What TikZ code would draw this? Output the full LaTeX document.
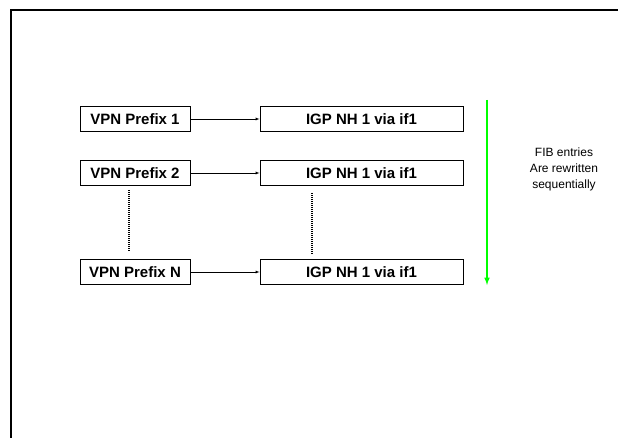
\documentclass[tikz,border=0pt]{standalone}
\usepackage{fontspec}
\setmainfont{Liberation Sans}
\usetikzlibrary{calc}
\tikzset{>=latex}
\definecolor{fibgreen}{RGB}{0,255,0}

\begin{document}
\begin{tikzpicture}[x=1pt,y=-1pt,
    pfx/.style={draw,line width=1pt,minimum width=110pt,minimum height=25pt,
      inner sep=0pt,font=\fontsize{15}{17}\selectfont\bfseries},
    nh/.style={pfx,minimum width=203pt}]
    \useasboundingbox (0,0) rectangle (618,438);
    \draw[line width=2pt] (10.5,438) -- (10.5,10.5) -- (618,10.5);
    \foreach\row/\y/\lab in {1/119/1,2/173/2,3/272/N}{
     \node[pfx] (p\row) at (135,\y) {VPN Prefix \lab};
     \node[nh] (n\row) at (361.5,\y) {IGP NH 1 via if1};
     \draw[->] (p\row) -- (n\row);}
    \draw[line width=1.2pt,dash pattern=on 1pt off 1pt]
     ($(p2.south)+(-6,4)$) -- ($(p3.north)+(-6,-7)$);
    \draw[line width=1.2pt,dash pattern=on 1pt off 1pt]
     ($(n2.south)+(-49.5,7)$) -- ($(n3.north)+(-49.5,-5)$);
    \coordinate (gtop) at (487,100);
    \coordinate (gend) at (487,285);
    \draw[->,fibgreen,line width=1.5pt] (gtop) -- (gend);
    \node[align=center,font=\fontsize{12}{16}\selectfont] (fib) at (564,169)
     {FIB entries\\Are rewritten\\sequentially};
  \end{tikzpicture}
\end{document}
